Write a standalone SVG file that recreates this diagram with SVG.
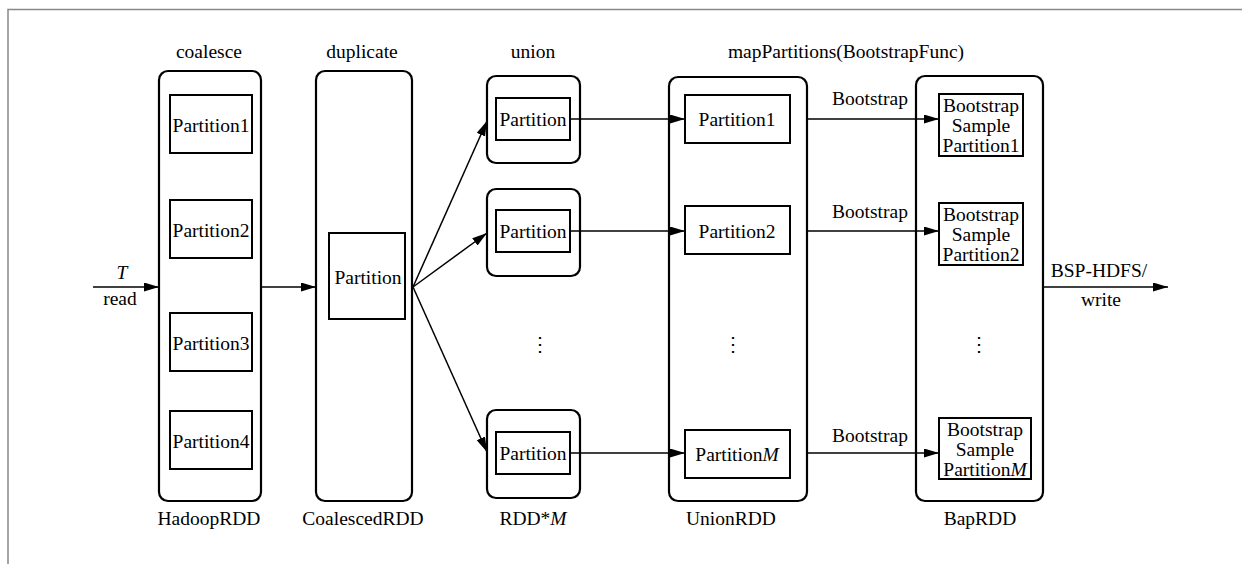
<svg xmlns="http://www.w3.org/2000/svg" width="1242" height="564" viewBox="0 0 1242 564">
<defs>
<style>
text{font-family:"Liberation Serif","Times New Roman",serif;font-size:19.5px;fill:#000;text-anchor:middle}
.it{font-style:italic}
.rdd{fill:#fff;stroke:#000;stroke-width:2.2}
.part{fill:#fff;stroke:#000;stroke-width:2}
.con{stroke:#000;stroke-width:1.5;fill:none;marker-end:url(#ah)}
.frame{stroke:#888;stroke-width:1.5;fill:none}
.dots{font-family:"DejaVu Serif",serif;font-size:20px}
</style>
<marker id="ah" markerWidth="16" markerHeight="10" refX="15" refY="4.5" orient="auto" markerUnits="userSpaceOnUse"><path d="M0,0 L15,4.5 L0,9 Z" fill="#000"/></marker>
</defs>
<rect width="1242" height="564" fill="#fff"/>
<path class="frame" d="M8,564 L8,9.5 L1242,9.5"/>

<g id="hadoopRDD">
<text x="209" y="58">coalesce</text>
<rect class="rdd" x="159" y="71" width="102" height="430" rx="9"/>
<rect class="part" x="170" y="95" width="82" height="58"/>
<text x="211" y="132">Partition1</text>
<rect class="part" x="170" y="200" width="82" height="58"/>
<text x="211" y="237">Partition2</text>
<rect class="part" x="170" y="313" width="82" height="58"/>
<text x="211" y="350">Partition3</text>
<rect class="part" x="170" y="411" width="82" height="58"/>
<text x="211" y="448">Partition4</text>
<text x="209" y="525">HadoopRDD</text>
</g>

<g id="coalescedRDD">
<text x="362" y="58">duplicate</text>
<rect class="rdd" x="316" y="71" width="96" height="430" rx="9"/>
<rect class="part" x="329" y="233" width="76" height="86"/>
<text x="368" y="284">Partition</text>
<text x="363" y="525">CoalescedRDD</text>
</g>

<g id="rddM">
<text x="533" y="58">union</text>
<rect class="rdd" x="487" y="76" width="93" height="87" rx="9"/>
<rect class="part" x="496" y="98" width="74" height="42"/>
<text x="533" y="126">Partition</text>
<rect class="rdd" x="487" y="189" width="93" height="87" rx="9"/>
<rect class="part" x="496" y="210" width="74" height="42"/>
<text x="533" y="238">Partition</text>
<text class="dots" x="540" y="351">⋮</text>
<rect class="rdd" x="487" y="410" width="93" height="88" rx="9"/>
<rect class="part" x="496" y="432" width="74" height="42"/>
<text x="533" y="460">Partition</text>
<text x="533" y="525">RDD*<tspan class="it">M</tspan></text>
</g>

<g id="unionRDD">
<text x="846" y="58">mapPartitions(BootstrapFunc)</text>
<rect class="rdd" x="669" y="77" width="138" height="424" rx="9"/>
<rect class="part" x="685" y="95" width="105" height="48"/>
<text x="737" y="126">Partition1</text>
<rect class="part" x="685" y="206" width="105" height="48"/>
<text x="737" y="238">Partition2</text>
<text class="dots" x="733" y="351">⋮</text>
<rect class="part" x="685" y="430" width="105" height="48"/>
<text x="737" y="461">Partition<tspan class="it">M</tspan></text>
<text x="731" y="525">UnionRDD</text>
</g>

<g id="bapRDD">
<rect class="rdd" x="916" y="76" width="127" height="425" rx="9"/>
<rect class="part" x="939" y="94" width="84" height="62"/>
<text x="981" y="112">Bootstrap</text>
<text x="981" y="132">Sample</text>
<text x="981" y="152">Partition1</text>
<rect class="part" x="939" y="203" width="84" height="62"/>
<text x="981" y="221">Bootstrap</text>
<text x="981" y="241">Sample</text>
<text x="981" y="261">Partition2</text>
<text class="dots" x="979" y="351">⋮</text>
<rect class="part" x="939" y="418" width="92" height="61"/>
<text x="985" y="436">Bootstrap</text>
<text x="985" y="456">Sample</text>
<text x="985" y="476">Partition<tspan class="it">M</tspan></text>
<text x="980" y="525">BapRDD</text>
</g>

<g id="connectors">
<line class="con" x1="93" y1="287" x2="159" y2="287"/>
<text class="it" x="122" y="279">T</text>
<text x="120" y="305">read</text>
<line class="con" x1="261" y1="287" x2="316" y2="287"/>
<line class="con" x1="413" y1="287" x2="487" y2="121"/>
<line class="con" x1="413" y1="287" x2="487" y2="233"/>
<line class="con" x1="413" y1="287" x2="487" y2="452"/>
<line class="con" x1="570" y1="119" x2="685" y2="119"/>
<line class="con" x1="570" y1="231" x2="685" y2="231"/>
<line class="con" x1="570" y1="453" x2="685" y2="453"/>
<line class="con" x1="807" y1="119" x2="939" y2="119"/>
<text x="870" y="105">Bootstrap</text>
<line class="con" x1="807" y1="231" x2="939" y2="231"/>
<text x="870" y="218">Bootstrap</text>
<line class="con" x1="807" y1="453" x2="939" y2="453"/>
<text x="870" y="442">Bootstrap</text>
<line class="con" x1="1043" y1="287" x2="1168" y2="287"/>
<text x="1099" y="277">BSP-HDFS/</text>
<text x="1101" y="306">write</text>
</g>
</svg>
